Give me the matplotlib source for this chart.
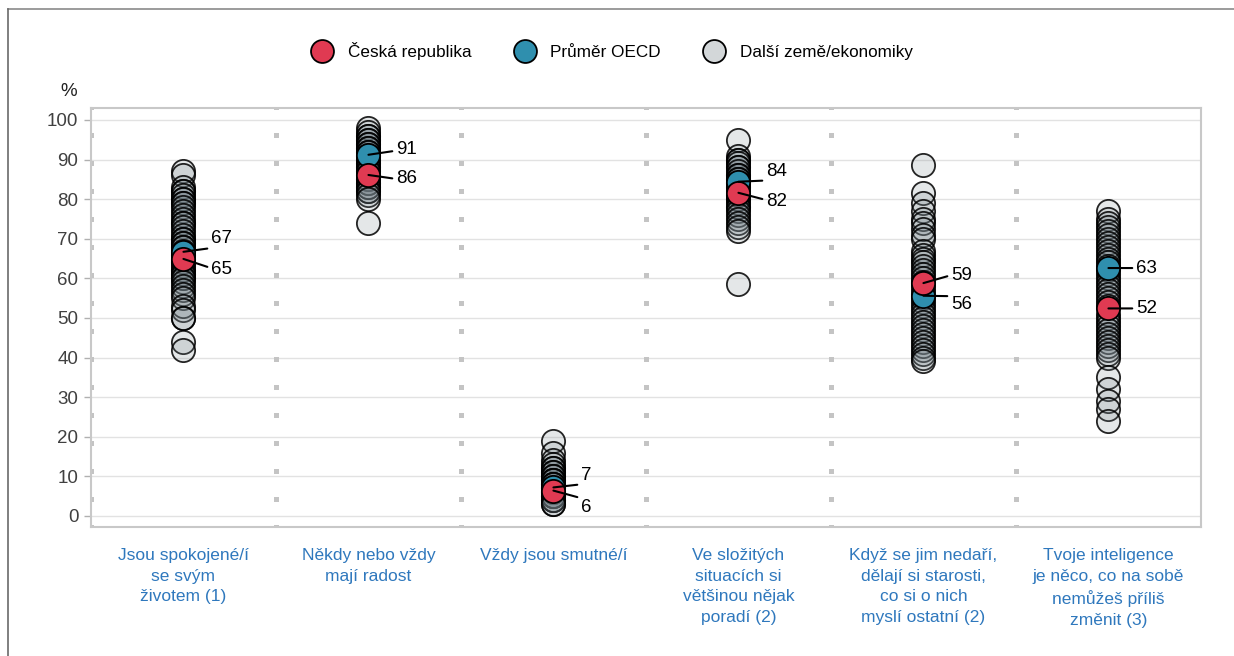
import matplotlib
matplotlib.use('Agg')
from matplotlib import pyplot as plt
from matplotlib.lines import Line2D

plt.rcParams['font.family'] = ['Liberation Sans', 'DejaVu Sans']

categories = [
    'Jsou spokojené/í\nse svým\nživotem (1)',
    'Někdy nebo vždy\nmají radost',
    'Vždy jsou smutné/í',
    'Ve složitých\nsituacích si\nvětšinou nějak\nporadí (2)',
    'Když se jim nedaří,\ndělají si starosti,\nco si o nich\nmyslí ostatní (2)',
    'Tvoje inteligence\nje něco, co na sobě\nnemůžeš příliš\nzměnit (3)',
]

# ostatni zeme / ekonomiky (odhad z obrazku)
others = [
    [87, 86, 83, 82, 82, 81, 80, 80, 79, 79, 78, 77, 76, 75, 74, 74, 73, 72, 71, 70,
     70, 69, 69, 68, 68, 67, 66, 66, 65, 64, 64, 63, 62, 62, 61, 61, 60, 60, 59, 58,
     57, 56, 55, 53, 52, 50, 50, 44, 42],
    [98, 97, 96, 96, 95, 95, 94, 94, 93, 93, 92, 92, 91, 91, 90, 90, 89, 89, 88, 88,
     87, 87, 86, 85, 85, 84, 84, 83, 83, 82, 82, 81, 80, 74],
    [19, 16, 14, 13, 12, 12, 11, 11, 10, 10, 9, 9, 9, 8, 8, 8, 7, 7, 7, 6, 6, 6,
     5, 5, 5, 5, 4, 4, 4, 3, 3],
    [95, 91, 90, 90, 89, 88, 88, 87, 86, 86, 85, 85, 84, 84, 83, 83, 82, 81, 81, 80,
     80, 79, 78, 78, 77, 76, 75, 74, 73, 72, 58.5],
    [88.5, 81.5, 79, 77, 75, 74, 72.5, 71, 70, 67, 66, 65, 64, 63, 62, 61, 60, 59, 58,
     57, 56, 55, 54, 53, 52, 51, 50, 49, 48, 47, 46, 45, 44, 43, 42, 41, 40, 39],
    [77, 75, 74, 73, 72, 71, 70, 69, 68, 67, 66, 65, 64, 63, 62, 61, 60, 59, 58, 57,
     56, 55, 54, 53, 51, 50, 49, 48, 47, 46, 45, 44, 43, 42, 41, 40, 35, 32, 29, 27, 24],
]

oecd = [66.7, 91.2, 7.2, 84.4, 55.6, 62.6]
cz = [64.9, 86.1, 6.4, 81.6, 58.8, 52.4]

RED = '#e03a52'
BLUE = '#2f8fae'

fig = plt.figure(figsize=(12.34, 6.56), dpi=100)
ax = fig.add_axes([0.0737, 0.1966, 0.8995, 0.6387])

ax.set_xlim(-0.5, 5.5)
ax.set_ylim(-2.8, 103)

for y in range(0, 101, 10):
    ax.axhline(y, color='#e2e2e2', lw=1.0, zorder=0)
for x in [-0.5, 0.5, 1.5, 2.5, 3.5, 4.5]:
    ax.axvline(x, color='#c4c4c4', lw=3.6, linestyle=(0.5, (1, 4.6)), zorder=0.5)

S = 280
for i, vals in enumerate(others):
    ax.scatter([i] * len(vals), vals, s=S, facecolor=(0.45, 0.5, 0.53, 0.19),
               edgecolor=(0, 0, 0, 0.85), linewidth=1.3, zorder=2)
ax.scatter(range(6), oecd, s=S, facecolor=BLUE, edgecolor='black', linewidth=1.3, zorder=4)
ax.scatter(range(6), cz, s=S, facecolor=RED, edgecolor='black', linewidth=1.3, zorder=5)

# popisky: (kategorie, serie, posun y v px, relpos)
labels = [
    (0, 'oecd', 13, (0.25, 0)), (0, 'cz', -11, (0, 0.6)),
    (1, 'oecd', 5, (0, 0.45)), (1, 'cz', -4, (0, 0.5)),
    (2, 'oecd', 12, (0.3, 0)), (2, 'cz', -17, (0.3, 1)),
    (3, 'oecd', 10, (0.3, 0)), (3, 'cz', -9, (0, 0.6)),
    (4, 'cz', 8, (0, 0.5)), (4, 'oecd', -9, (0.25, 1)),
    (5, 'oecd', 0, (0, 0.5)), (5, 'cz', 0, (0, 0.5)),
]
for i, which, dy, rp in labels:
    v = oecd[i] if which == 'oecd' else cz[i]
    ax.annotate(str(round(v)), xy=(i, v), xytext=(28, dy), textcoords='offset pixels',
                ha='left', va='center', fontsize=13.5, color='black', zorder=6,
                arrowprops=dict(arrowstyle='-', color='black', lw=1.5,
                                relpos=rp, shrinkA=1, shrinkB=0))

ax.set_yticks(range(0, 101, 10))
ax.set_xticks(range(6))
ax.set_xticklabels(categories, color='#2f78bd', fontsize=12.5, linespacing=1.48, va='top')
ax.tick_params(axis='x', length=0, pad=15)
ax.tick_params(axis='y', length=5, width=1, color='#b0b0b0', labelsize=13.5,
               labelcolor='#404040', pad=4)
for sp in ax.spines.values():
    sp.set_color('#c8c8c8')
    sp.set_linewidth(1.5)

fig.text(0.0559, 0.8598, '%', fontsize=13.5, color='#222222', ha='center', va='center')

handles = [
    Line2D([], [], marker='o', ls='', ms=16.5, mfc=RED, mec='black', mew=1.3),
    Line2D([], [], marker='o', ls='', ms=16.5, mfc=BLUE, mec='black', mew=1.3),
    Line2D([], [], marker='o', ls='', ms=16.5, mfc='#d3d7d9', mec='black', mew=1.3),
]
fig.legend(handles, ['Česká republika', 'Průměr OECD', 'Další země/ekonomiky'],
           loc='center', bbox_to_anchor=(0.4935, 0.922), ncol=3, frameon=False,
           fontsize=12.3, handletextpad=0.5, columnspacing=2.1)

# ramecek nahore a vlevo
fig.add_artist(Line2D([8 / 1234, 1], [1 - 9 / 656, 1 - 9 / 656], color='#8a8a8a', lw=1.2,
                      transform=fig.transFigure))
fig.add_artist(Line2D([8 / 1234, 8 / 1234], [0, 1 - 9 / 656], color='#6a6a6a', lw=1.2,
                      transform=fig.transFigure))

fig.savefig('out.png', dpi=100)
